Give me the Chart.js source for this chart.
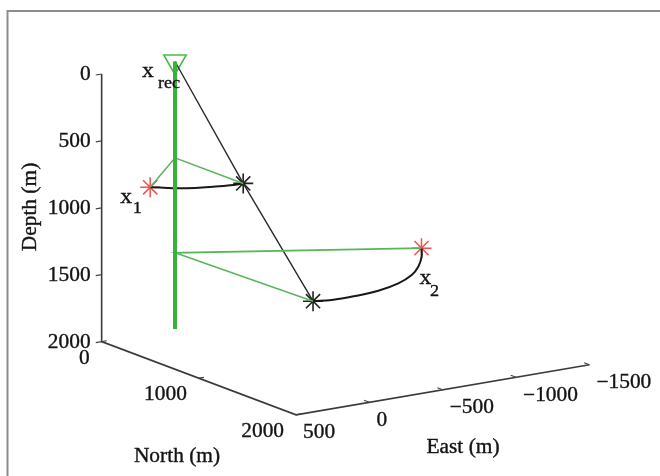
<!DOCTYPE html>
<html>
<head>
<meta charset="utf-8">
<script src="https://cdn.jsdelivr.net/npm/chart.js@4/dist/chart.umd.min.js"></script>
<style>
  html, body { margin: 0; padding: 0; background: #fff; }
  #wrap { position: relative; width: 660px; height: 476px; }
  canvas { display: block; }
</style>
</head>
<body>
<div id="wrap"><canvas id="c" width="660" height="476"></canvas></div>
<script>
// ---------------- DATA (metres) ----------------
// axis ranges and ticks
const eastRange  = [500, -1500];
const northRange = [0, 2000];
const depthRange = [0, 2000];
const eastTicks  = [500, 0, -500, -1000, -1500];
const northTicks = [0, 1000, 2000];
const depthTicks = [0, 500, 1000, 1500, 2000];

// vertical receiver well
const wellEast  = [0, 0];
const wellNorth = [0, 0];
const wellDepth = [0, 2000];

// reference receiver x_rec
const recEast  = [0];
const recNorth = [0];
const recDepth = [0];

// true sources x1, x2 (red stars)
const srcEast  = [550, -1190];
const srcNorth = [575, 740];
const srcDepth = [680, 1415];

// rotated source positions (black stars)
const rotEast  = [65, -20];
const rotNorth = [800, 1390];
const rotDepth = [680, 1415];

// points on the well where the green rays start
const junctionDepth = [720, 1430];

// rotation arcs (constant depth)
const arc1East  = [550, 474, 392, 248, 151, 65];
const arc1North = [575, 644, 711, 766, 794, 800];
const arc1Depth = 680;
const arc2East  = [-1190, -1085, -944, -810, -643, -457, -282, -123, -20];
const arc2North = [740, 900, 1078, 1213, 1327, 1402, 1427, 1427, 1390];
const arc2Depth = 1415;

// ---------------- VIEW (3-D -> 2-D projection) ----------------
const VIEW = {
  ox: 175, oy: 61.5,
  ex: -0.1467, ey: 0.025,
  nx: 0.0972,  ny: 0.0366,
  dy: 0.1338
};
function proj(e, n, d) {
  return {
    x: VIEW.ox + VIEW.ex * e + VIEW.nx * n,
    y: VIEW.oy + VIEW.ey * e + VIEW.ny * n + VIEW.dy * d
  };
}
function line3(es, ns, ds) {
  return es.map((e, i) => proj(e, ns[i], Array.isArray(ds) ? ds[i] : ds));
}

// ---------------- DATASETS ----------------
const axisPts = [
  proj(eastRange[0], northRange[0], depthRange[0]),
  proj(eastRange[0], northRange[0], depthRange[1]),
  proj(eastRange[0], northRange[1], depthRange[1]),
  proj(eastRange[1], northRange[1], depthRange[1])
];
const wellPts = line3(wellEast, wellNorth, wellDepth);
const recPts = line3(recEast, recNorth, recDepth);
const srcPts = line3(srcEast, srcNorth, srcDepth);
const rotPts = line3(rotEast, rotNorth, rotDepth);
const junc = junctionDepth.map(d => proj(wellEast[0], wellNorth[0], d));
const green1 = [srcPts[0], junc[0], rotPts[0]];
const green2 = [srcPts[1], junc[1], rotPts[1]];
const rayPts = [recPts[0], rotPts[0], rotPts[1]];
const arc1Pts = line3(arc1East, arc1North, arc1Depth);
const arc2Pts = line3(arc2East, arc2North, arc2Depth);

function lineDS(data, color, width, tension) {
  return { type: 'scatter', data, showLine: true, borderColor: color, borderWidth: width,
    pointRadius: 0, tension: tension || 0, clip: false, fill: false };
}

const SERIF = '"Liberation Serif", "DejaVu Serif", serif';
const TXT = '#141414';

function drawText(ctx, str, x, y, size, align, baseline, rot) {
  ctx.save();
  ctx.translate(x, y);
  if (rot) ctx.rotate(rot);
  ctx.scale(1.07, 1);
  ctx.font = size + 'px ' + SERIF;
  ctx.fillStyle = TXT;
  ctx.strokeStyle = TXT;
  ctx.lineWidth = 0.35;
  ctx.textAlign = align;
  ctx.textBaseline = baseline;
  ctx.fillText(str, 0, 0);
  ctx.strokeText(str, 0, 0);
  ctx.restore();
}
function fmt(v) { return v < 0 ? '\u2212' + Math.abs(v) : String(v); }

const decor = {
  id: 'decor',
  beforeDraw(chart) {
    const ctx = chart.ctx;
    ctx.save();
    ctx.fillStyle = '#fff';
    ctx.fillRect(0, 0, chart.width, chart.height);
    ctx.strokeStyle = '#8c8c8c';
    ctx.lineWidth = 2;
    ctx.beginPath();
    ctx.moveTo(7.5, chart.height);
    ctx.lineTo(7.5, 11);
    ctx.lineTo(chart.width, 11);
    ctx.stroke();
    ctx.restore();
  },
  afterDatasetsDraw(chart) {
    const ctx = chart.ctx;
    const sx = chart.scales.x, sy = chart.scales.y;
    const P = (p) => ({ x: sx.getPixelForValue(p.x), y: sy.getPixelForValue(p.y) });
    ctx.save();
    ctx.strokeStyle = '#444';
    ctx.lineWidth = 1.2;
    // depth ticks
    depthTicks.forEach(t => {
      const a = P(proj(eastRange[0], northRange[0], t));
      const b = P(proj(eastRange[0] + 40, northRange[0], t));
      ctx.beginPath(); ctx.moveTo(a.x, a.y); ctx.lineTo(b.x, b.y); ctx.stroke();
      drawText(ctx, String(t), a.x - 11, a.y + 1, 20, 'right', 'middle');
    });
    // north ticks
    northTicks.forEach(t => {
      const a = P(proj(eastRange[0], t, depthRange[1]));
      const b = P(proj(eastRange[0] - 35, t, depthRange[1]));
      ctx.strokeStyle = '#444'; ctx.lineWidth = 1.2;
      ctx.beginPath(); ctx.moveTo(a.x, a.y); ctx.lineTo(b.x, b.y); ctx.stroke();
      drawText(ctx, String(t), a.x - 12, a.y + 17, 20, 'right', 'middle');
    });
    // east ticks
    eastTicks.forEach(t => {
      const a = P(proj(t, northRange[1], depthRange[1]));
      const b = P(proj(t, northRange[1] - 55, depthRange[1]));
      ctx.strokeStyle = '#444'; ctx.lineWidth = 1.2;
      ctx.beginPath(); ctx.moveTo(a.x, a.y); ctx.lineTo(b.x, b.y); ctx.stroke();
      drawText(ctx, fmt(t), a.x + 7, a.y + 18, 20, 'left', 'middle');
    });
    // axis titles
    drawText(ctx, 'Depth (m)', 31, 207, 20, 'center', 'middle', -Math.PI / 2);
    drawText(ctx, 'North (m)', 177, 457, 20, 'center', 'middle');
    drawText(ctx, 'East (m)', 463, 448, 20, 'center', 'middle');
    // point labels
    const r = P(recPts[0]);
    drawText(ctx, 'x', r.x - 27, r.y + 10, 22, 'center', 'middle');
    drawText(ctx, 'rec', r.x - 6, r.y + 22, 17, 'center', 'middle');
    const s1 = P(srcPts[0]);
    drawText(ctx, 'x', s1.x - 24, s1.y + 10, 22, 'center', 'middle');
    drawText(ctx, '1', s1.x - 13, s1.y + 21, 17, 'center', 'middle');
    const s2 = P(srcPts[1]);
    drawText(ctx, 'x', s2.x + 4, s2.y + 30, 22, 'center', 'middle');
    drawText(ctx, '2', s2.x + 13, s2.y + 43, 17, 'center', 'middle');
    ctx.restore();
  }
};

new Chart(document.getElementById('c'), {
  type: 'scatter',
  data: {
    datasets: [
      lineDS(axisPts, '#3a3a3a', 1.6),
      lineDS(wellPts, '#38b238', 4),
      lineDS(green1, '#58b658', 1.6),
      lineDS(green2, '#58b658', 1.6),
      lineDS(rayPts, '#2a2a2a', 1.4),
      lineDS(arc1Pts, '#181818', 2, 0.4),
      lineDS(arc2Pts, '#181818', 2, 0.4),
      { type: 'scatter', data: srcPts, pointStyle: 'star', pointRadius: 10, borderColor: '#f05050',
        borderWidth: 1.5, backgroundColor: '#f05050', clip: false },
      { type: 'scatter', data: rotPts, pointStyle: 'star', pointRadius: 10, borderColor: '#222',
        borderWidth: 1.6, backgroundColor: '#222', clip: false },
      { type: 'scatter', data: recPts, pointStyle: 'triangle', pointRotation: 180, pointRadius: 13,
        borderColor: '#4cb84c', borderWidth: 1.6, backgroundColor: 'rgba(0,0,0,0)', clip: false }
    ]
  },
  options: {
    responsive: false,
    animation: false,
    events: [],
    layout: { padding: 0, autoPadding: false },
    plugins: { legend: { display: false }, tooltip: { enabled: false }, title: { display: false } },
    scales: {
      x: { type: 'linear', min: 0, max: 660, display: false },
      y: { type: 'linear', min: 0, max: 476, reverse: true, display: false }
    }
  },
  plugins: [decor]
});
</script>
</body>
</html>
